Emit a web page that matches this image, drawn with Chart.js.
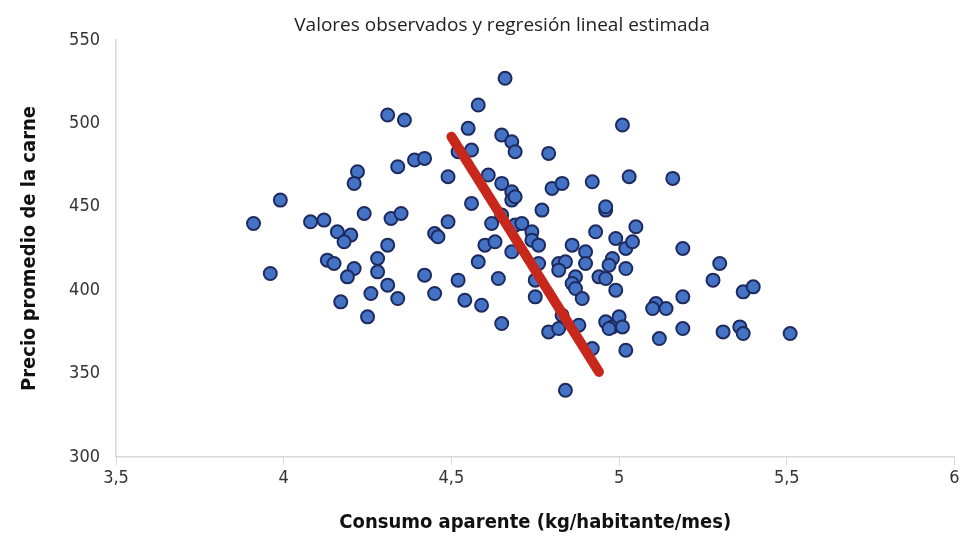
<!DOCTYPE html>
<html lang="es">
<head>
<meta charset="utf-8">
<title>Precio promedio de la carne vs consumo aparente</title>
<script src="https://cdn.jsdelivr.net/npm/chart.js@4/dist/chart.umd.min.js"></script>
<style>
    html, body { margin: 0; padding: 0; background: #fff; overflow: hidden; }
    #wrap { position: absolute; left: 0; top: -22px; width: 963px; height: 558px; }
</style>
</head>
<body>
<div id="wrap"><canvas id="dispersion" width="963" height="558"></canvas></div>
<script>
/* =========================
   Dispersión: precio promedio de la carne
   vs consumo aparente + recta de regresión
========================= */

// Observaciones (kg/habitante/mes, precio)
var consumo = [
    4.31, 4.36, 4.39, 4.42, 4.34, 4.22, 4.21, 3.99, 3.91, 4.08, 4.12, 4.16,
    4.20, 4.18, 4.24, 4.32, 4.35, 4.45, 4.46, 4.49, 4.49, 4.31, 4.28, 4.28,
    4.31, 4.34, 4.26, 4.25, 4.17, 3.96, 4.13, 4.15, 4.21, 4.19, 4.42, 4.45,
    4.66, 4.58, 4.55, 4.65, 4.68, 4.69, 4.56, 4.52, 4.79, 5.01, 4.61, 4.65,
    4.68, 4.68, 4.69, 4.56, 4.77, 4.80, 4.83, 4.92, 5.03, 5.16, 4.62, 4.65,
    4.69, 4.71, 4.74, 4.74, 4.76, 4.60, 4.63, 4.68, 4.58, 4.86, 4.90, 4.93,
    4.96, 4.96, 4.99, 5.05, 5.02, 5.04, 4.98, 4.52, 4.64, 4.54, 4.59, 4.65,
    4.75, 4.75, 4.76, 4.82, 4.84, 4.82, 4.90, 4.87, 4.86, 4.87, 4.89, 4.94,
    4.96, 4.97, 5.02, 4.99, 5.19, 5.19, 4.83, 4.79, 4.82, 4.88, 4.92, 4.96,
    4.98, 4.97, 5.00, 5.01, 5.02, 5.11, 5.10, 5.14, 5.12, 4.84,
    5.30, 5.28, 5.37, 5.40, 5.19, 5.31, 5.36, 5.37, 5.51
];
var precio = [
    505, 502, 478, 479, 474, 471, 464, 454, 440, 441, 442, 435,
    433, 429, 446, 443, 446, 434, 432, 468, 441, 427, 419, 411,
    403, 395, 398, 384, 393, 410, 418, 416, 413, 408, 409, 398,
    527, 511, 497, 493, 489, 483, 484, 483, 482, 499, 469, 464,
    459, 454, 456, 452, 448, 461, 464, 465, 468, 467, 440, 445,
    439, 440, 435, 430, 427, 427, 429, 423, 417, 427, 423, 435,
    448, 450, 431, 438, 425, 429, 419, 406, 407, 394, 391, 380,
    406, 396, 416, 416, 417, 412, 416, 408, 404, 401, 395, 408,
    407, 415, 413, 400, 425, 396, 385, 375, 377, 379, 365, 381,
    378, 377, 384, 378, 364, 392, 389, 389, 371, 340,
    416, 406, 399, 402, 377, 375, 378, 374, 374
];

// Recta de regresión estimada (extremos)
var regresionX = [4.50, 4.94];
var regresionY = [492, 351];

// Ejes
var xTicks = [3.5, 4, 4.5, 5, 5.5, 6];
var yTicks = [300, 350, 400, 450, 500, 550];

var tituloTexto    = 'Relación entre el precio promedio de la carne de res en México y el consumo aparente per cápita';
var subtituloTexto = 'Valores observados y regresión lineal estimada';
var ejeXTexto      = 'Consumo aparente (kg/habitante/mes)';
var ejeYTexto      = 'Precio promedio de la carne';

var NARROW = "'Liberation Sans Narrow', 'DejaVu Sans Condensed', 'Roboto', sans-serif";

function toPoints(xs, ys) {
    return xs.map(function (x, i) { return { x: x, y: ys[i] }; });
}

function fmtComa(v) {
    return String(v).replace('.', ',');
}

document.addEventListener('DOMContentLoaded', function () {
    var ctx = document.getElementById('dispersion');

    new Chart(ctx, {
        type: 'scatter',
        data: {
            datasets: [
                {
                    label: 'Regresión lineal',
                    type: 'line',
                    data: toPoints(regresionX, regresionY),
                    borderColor: '#C8281C',
                    borderWidth: 10,
                    borderCapStyle: 'round',
                    pointRadius: 0,
                    fill: false,
                    tension: 0
                },
                {
                    label: 'Observados',
                    data: toPoints(consumo, precio),
                    backgroundColor: '#4472C4',
                    borderColor: '#1E2A5E',
                    borderWidth: 2,
                    pointRadius: 6.5
                }
            ]
        },
        options: {
            responsive: false,
            animation: false,
            // left padding centres the (full width) titles where the original has them
            layout: { padding: { left: 48, right: 7, top: 0, bottom: 0 } },
            plugins: {
                legend: { display: false },
                tooltip: { enabled: false },
                title: {
                    display: true,
                    text: tituloTexto,
                    color: '#000',
                    font: { family: NARROW, size: 22, weight: 'bold', lineHeight: 1.12 },
                    padding: { top: 0, bottom: 0 }
                },
                subtitle: {
                    display: true,
                    text: subtituloTexto,
                    color: '#222',
                    font: { family: "'Open Sans', sans-serif", size: 19, weight: 'normal', lineHeight: 1.1 },
                    padding: { top: 12.4, bottom: 4 }
                }
            },
            scales: {
                x: {
                    type: 'linear',
                    min: xTicks[0],
                    max: xTicks[xTicks.length - 1],
                    afterBuildTicks: function (scale) {
                        scale.ticks = xTicks.map(function (v) { return { value: v }; });
                    },
                    afterFit: function (scale) { scale.height = 79; },
                    grid: {
                        display: true,
                        drawOnChartArea: false,
                        drawTicks: true,
                        tickLength: 8,
                        color: '#D9D9D9'
                    },
                    border: { display: true, color: '#D9D9D9', width: 1.5 },
                    ticks: {
                        color: '#333',
                        padding: 3,
                        font: { family: NARROW, size: 18 },
                        callback: function (v) { return fmtComa(v); }
                    },
                    title: {
                        display: true,
                        text: ejeXTexto,
                        color: '#111',
                        font: { family: NARROW, size: 20, weight: 'bold' },
                        padding: { top: 0, bottom: 1 }
                    }
                },
                y: {
                    type: 'linear',
                    min: yTicks[0],
                    max: yTicks[yTicks.length - 1],
                    afterBuildTicks: function (scale) {
                        scale.ticks = yTicks.map(function (v) { return { value: v }; });
                    },
                    afterFit: function (scale) { scale.width = 68; },
                    grid: { display: false, drawTicks: false },
                    border: { display: true, color: '#D9D9D9', width: 1.5 },
                    ticks: {
                        color: '#333',
                        padding: 16,
                        font: { family: NARROW, size: 18 }
                    },
                    title: {
                        display: true,
                        text: ejeYTexto,
                        color: '#111',
                        font: { family: NARROW, size: 20, weight: 'bold' },
                        padding: { top: -30, bottom: 0 }
                    }
                }
            }
        }
    });
});
</script>
</body>
</html>
